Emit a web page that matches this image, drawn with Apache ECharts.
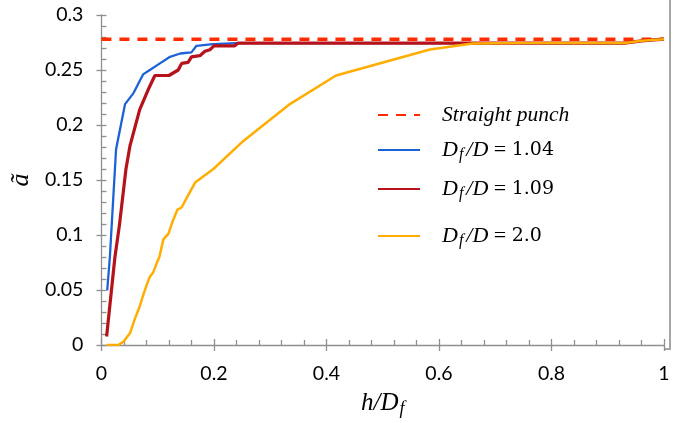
<!DOCTYPE html>
<html>
<head>
<meta charset="utf-8">
<script src="https://cdn.jsdelivr.net/npm/echarts@6/dist/echarts.min.js"></script>
<style>
html,body{margin:0;padding:0;background:#fff;}
#c{width:680px;height:423px;}
</style>
</head>
<body>
<div id="c"></div>
<script>
// ---- data ----
const seriesNames = ['Straight punch', '1.04', '1.09', '2.0'];
const xTicks = [0, 0.2, 0.4, 0.6, 0.8, 1];
const yTicks = [0, 0.05, 0.1, 0.15, 0.2, 0.25, 0.3];

const straightPunch = [[0, 0.278], [1, 0.278]];

const ratio104 = [
  [0.0103, 0.0497], [0.015, 0.080], [0.024, 0.160], [0.026, 0.178], [0.042, 0.219],
  [0.057, 0.229], [0.074, 0.246], [0.086, 0.250], [0.104, 0.256], [0.122, 0.262],
  [0.140, 0.265], [0.160, 0.266], [0.169, 0.272], [0.198, 0.2735], [0.240, 0.2745],
  [0.93, 0.2745], [0.96, 0.2765], [1.0, 0.278]
];

const ratio109 = [
  [0.0092, 0.0077], [0.024, 0.080], [0.032, 0.109], [0.0436, 0.160], [0.0507, 0.181],
  [0.068, 0.214], [0.083, 0.232], [0.095, 0.245], [0.120, 0.245], [0.1365, 0.250],
  [0.1426, 0.256], [0.154, 0.257], [0.160, 0.262], [0.175, 0.263], [0.184, 0.267],
  [0.193, 0.2685], [0.200, 0.272], [0.237, 0.272], [0.243, 0.2745], [0.93, 0.2745],
  [0.96, 0.2765], [1.0, 0.278]
];

const ratio20 = [
  [0.009, 0], [0.030, 0], [0.039, 0.003], [0.051, 0.011], [0.0596, 0.024],
  [0.068, 0.035], [0.074, 0.045], [0.080, 0.054], [0.086, 0.062], [0.092, 0.066],
  [0.098, 0.074], [0.103, 0.080], [0.110, 0.096], [0.119, 0.101], [0.127, 0.113],
  [0.135, 0.123], [0.1425, 0.125], [0.154, 0.136], [0.167, 0.148], [0.199, 0.160],
  [0.249, 0.184], [0.335, 0.219], [0.417, 0.245], [0.584, 0.2687], [0.660, 0.274],
  [0.75, 0.2745], [0.93, 0.2745], [0.96, 0.2765], [1.0, 0.278]
];

// ---- chart ----
const chart = echarts.init(document.getElementById('c'), null, {renderer: 'canvas'});
const axisColor = '#8f8f8f';
const labelFont = 'Lato';
const serif = '"Liberation Serif", "DejaVu Serif", serif';

const richMath = {
  sp: {fontFamily: serif, fontStyle: 'italic', fontSize: 21.5, color: '#000'},
  it: {fontFamily: serif, fontStyle: 'italic', fontSize: 22, color: '#000'},
  sub: {fontFamily: serif, fontStyle: 'italic', fontSize: 16, color: '#000', padding: [10, 3, 0, 1]},
  eq: {fontFamily: serif, fontSize: 22, color: '#000'},
  num: {fontFamily: '"DejaVu Serif", serif', fontSize: 19, color: '#000'}
};

function legendFmt(name) {
  if (name === 'Straight punch') return '{sp|Straight punch}';
  return '{it|D}{sub|f}{it|/D}{eq| = }{num|' + name + '}';
}

function mkLegend(name, top) {
  return {
    data: [name], left: 377, top: top, orient: 'vertical',
    itemWidth: 42, itemHeight: 14, formatter: legendFmt,
    selectedMode: false, padding: 0,
    itemStyle: {opacity: 0},
    textStyle: {padding: [0, 0, 0, 17], rich: richMath}
  };
}

const xBase = {
  type: 'value', min: 0, max: 1, interval: 0.2,
  splitLine: {show: false}
};
const yBase = {
  type: 'value', min: 0, max: 0.3, interval: 0.05,
  splitLine: {show: false}
};

chart.setOption({
  animation: false,
  backgroundColor: '#fff',
  grid: {left: 101, right: 16, top: 15, bottom: 74, containLabel: false},
  xAxis: [
    Object.assign({}, xBase, {
      position: 'bottom',
      axisLine: {show: true, lineStyle: {color: axisColor, width: 1.3}},
      axisTick: {show: true, inside: false, length: 6, lineStyle: {color: axisColor, width: 1.3}},
      axisLabel: {margin: 19, fontFamily: labelFont, fontSize: 19.5, color: '#000',
        formatter: v => String(+v.toFixed(2))},
      name: '{it|h/D}{sub|f}', nameLocation: 'middle', nameGap: 43,
      nameTextStyle: {rich: {
        it: {fontFamily: serif, fontStyle: 'italic', fontSize: 25, color: '#000'},
        sub: {fontFamily: serif, fontStyle: 'italic', fontSize: 18, color: '#000', padding: [12, 0, 0, 1]}
      }}
    }),
    Object.assign({}, xBase, {
      position: 'bottom',
      axisLine: {show: false},
      axisTick: {show: true, inside: true, length: 6, lineStyle: {color: axisColor, width: 1.3}},
      minorTick: {show: true, splitNumber: 5, length: 5, lineStyle: {color: axisColor, width: 1.3}},
      axisLabel: {show: false}
    })
  ],
  yAxis: [
    Object.assign({}, yBase, {
      position: 'left',
      axisLine: {show: true, lineStyle: {color: axisColor, width: 1.3}},
      axisTick: {show: true, inside: false, length: 5, lineStyle: {color: axisColor, width: 1.3}},
      axisLabel: {margin: 18, fontFamily: labelFont, fontSize: 19.5, color: '#000',
        formatter: v => String(+v.toFixed(2))},
      name: 'ã', nameLocation: 'middle', nameRotate: 90, nameGap: 66,
      nameTextStyle: {fontFamily: serif, fontStyle: 'italic', fontSize: 26, color: '#000'}
    }),
    Object.assign({}, yBase, {
      position: 'left',
      axisLine: {show: false},
      axisTick: {show: true, inside: true, length: 5, lineStyle: {color: axisColor, width: 1.3}},
      minorTick: {show: true, splitNumber: 5, length: 5, lineStyle: {color: axisColor, width: 1.3}},
      axisLabel: {show: false}
    })
  ],
  legend: [
    mkLegend('Straight punch', 104),
    mkLegend('1.04', 139),
    mkLegend('1.09', 178),
    mkLegend('2.0', 225)
  ],
  graphic: [{
    type: 'polyline', silent: true, z: 0,
    shape: {points: [[664, 349], [670, 349], [670, 0]]},
    style: {stroke: '#a6a6a6', lineWidth: 2, fill: null}
  }],
  series: [
    {name: seriesNames[0], type: 'line', data: straightPunch, symbol: 'none',
      lineStyle: {color: '#ff2a00', width: 3.5, type: [10, 8]}, itemStyle: {color: '#ff2a00'}, z: 2},
    {name: seriesNames[1], type: 'line', data: ratio104, symbol: 'none',
      lineStyle: {color: '#1c62d6', width: 2.3}, itemStyle: {color: '#1c62d6'}, z: 3},
    {name: seriesNames[2], type: 'line', data: ratio109, symbol: 'none',
      lineStyle: {color: '#b5121b', width: 3.2}, itemStyle: {color: '#b5121b'}, z: 4},
    {name: seriesNames[3], type: 'line', data: ratio20, symbol: 'none',
      lineStyle: {color: '#ffad00', width: 2.5}, itemStyle: {color: '#ffad00'}, z: 5}
  ]
});
</script>
</body>
</html>
